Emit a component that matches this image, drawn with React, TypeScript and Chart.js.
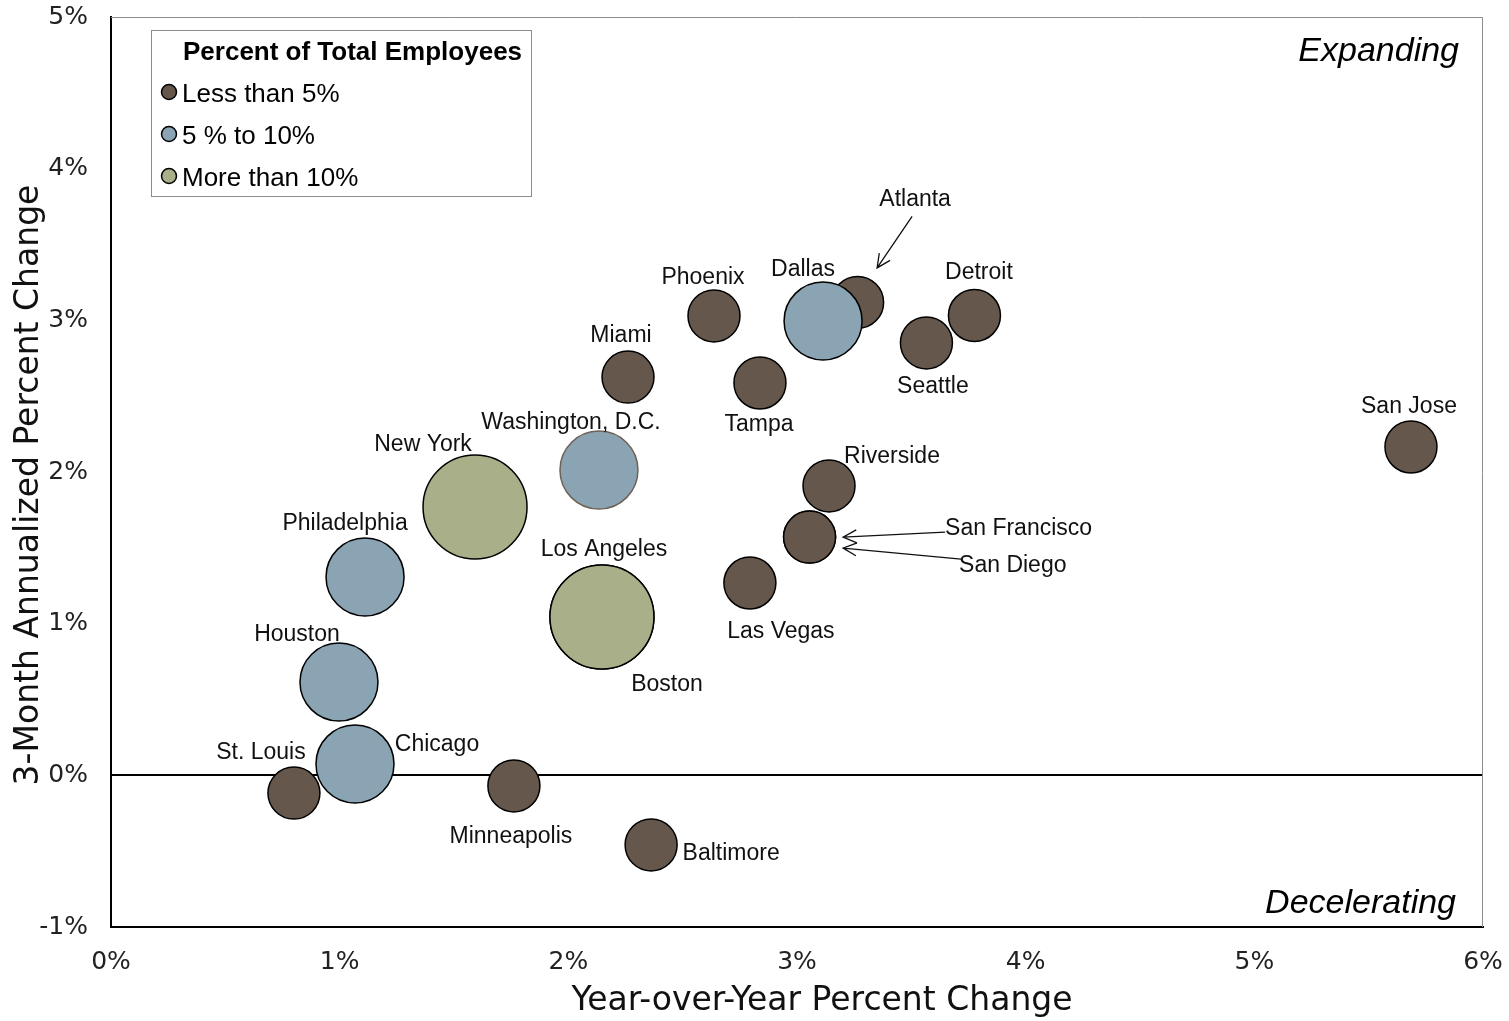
import React, { useEffect, useRef } from "react";
import { Chart, registerables } from "chart.js";
Chart.register(...registerables);

// ---- data ----
const smallCities = ["San Jose", "St. Louis", "Minneapolis", "Baltimore", "Miami", "Phoenix", "Tampa", "Atlanta", "Seattle", "Detroit", "Riverside", "San Francisco", "San Diego", "Las Vegas"];
const smallX = [5.685, 0.8, 1.762, 2.362, 2.261, 2.637, 2.838, 3.265, 3.566, 3.776, 3.14, 3.055, 3.055, 2.794];
const smallY = [2.165, -0.117, -0.07, -0.459, 2.626, 3.029, 2.587, 3.118, 2.851, 3.032, 1.908, 1.571, 1.571, 1.268];

const midCities = ["Chicago", "Houston", "Philadelphia", "Washington, D.C.", "Dallas"];
const midX = [1.067, 0.997, 1.111, 2.134, 3.114];
const midY = [0.075, 0.615, 1.308, 2.013, 2.996];

const largeCities = ["New York", "Los Angeles", "Boston"];
const largeX = [1.592, 2.147, 2.147];
const largeY = [1.769, 1.044, 1.044];

const groupLabels = ["Less than 5%", "5 % to 10%", "More than 10%"];
const legendTitle = "Percent of Total Employees";
const xTitle = "Year-over-Year Percent Change";
const yTitle = "3-Month Annualized Percent Change";
const quadTop = "Expanding";
const quadBottom = "Decelerating";

// ---- styles / annotation placement (pixel offsets from bubble centre) ----
const groupColors = ["#65574B", "#8AA4B4", "#A9AF89"];
const groupRadius = [26, 39, 52];
const labelOffsets: Record<string, [number, number]> = {
  "San Jose": [-2, -42],
  "St. Louis": [-33, -42],
  Chicago: [82, -21],
  Houston: [-42, -49],
  Philadelphia: [-20, -55],
  "New York": [-52, -64],
  "Washington, D.C.": [-28, -49],
  "Los Angeles": [2, -69],
  Boston: [65, 66],
  Minneapolis: [-3, 49],
  Baltimore: [80, 7],
  Miami: [-7, -43],
  Phoenix: [-11, -40],
  Tampa: [-1, 40],
  Dallas: [-20, -53],
  Seattle: [6.5, 42],
  Detroit: [4.5, -44.5],
  Riverside: [63, -31],
  "Las Vegas": [31, 47],
};
const arrowLabels: Record<string, { text: [number, number]; align: CanvasTextAlign; tail: [number, number]; head: [number, number] }> = {
  Atlanta: { text: [57.5, -104.5], align: "center", tail: [54.5, -86], head: [19.5, -34.5] },
  "San Francisco": { text: [135.5, -10], align: "left", tail: [135.5, -5], head: [33.5, 0] },
  "San Diego": { text: [149.5, 27], align: "left", tail: [151.5, 22], head: [33.5, 11] },
};

const LABEL_FONT = '23px "Liberation Sans", Arial, sans-serif';
const TITLE_FONT = '33px "DejaVu Sans", Verdana, sans-serif';
const TEXT_NUDGE = 2;

function drawArrow(ctx: CanvasRenderingContext2D, x1: number, y1: number, x2: number, y2: number) {
  ctx.beginPath();
  ctx.moveTo(x1, y1);
  ctx.lineTo(x2, y2);
  const ang = Math.atan2(y2 - y1, x2 - x1);
  const len = 15;
  const spread = 0.45;
  ctx.moveTo(x2 - len * Math.cos(ang - spread), y2 - len * Math.sin(ang - spread));
  ctx.lineTo(x2, y2);
  ctx.lineTo(x2 - len * Math.cos(ang + spread), y2 - len * Math.sin(ang + spread));
  ctx.stroke();
}

const annotPlugin = {
  id: "annot",
  afterDraw(chart: any) {
    const ctx: CanvasRenderingContext2D = chart.ctx;
    const a = chart.chartArea;
    ctx.save();
    // grey frame top / right
    ctx.strokeStyle = "#8c8c8c";
    ctx.lineWidth = 1;
    ctx.beginPath();
    ctx.moveTo(a.left, a.top + 0.5);
    ctx.lineTo(a.right - 0.5, a.top + 0.5);
    ctx.lineTo(a.right - 0.5, a.bottom);
    ctx.stroke();

    // city labels
    ctx.font = LABEL_FONT;
    ctx.fillStyle = "#111";
    ctx.strokeStyle = "#111";
    ctx.lineWidth = 1.3;
    ctx.textBaseline = "middle";
    chart.data.datasets.forEach((ds: any, di: number) => {
      const meta = chart.getDatasetMeta(di);
      meta.data.forEach((pt: any, i: number) => {
        const name = ds.cities[i];
        const off = labelOffsets[name];
        if (off) {
          ctx.textAlign = "center";
          ctx.fillText(name, pt.x + off[0], pt.y + off[1] + TEXT_NUDGE);
        }
        const arr = arrowLabels[name];
        if (arr) {
          ctx.textAlign = arr.align;
          ctx.fillText(name, pt.x + arr.text[0], pt.y + arr.text[1] + TEXT_NUDGE);
          drawArrow(ctx, pt.x + arr.tail[0], pt.y + arr.tail[1], pt.x + arr.head[0], pt.y + arr.head[1]);
        }
      });
    });

    // quadrant words
    ctx.fillStyle = "#000";
    ctx.textAlign = "right";
    ctx.font = 'italic 34px "Liberation Sans", Arial, sans-serif';
    ctx.fillText(quadTop, a.right - 24, a.top + 35);
    ctx.fillText(quadBottom, a.right - 27, a.bottom - 23);

    // legend
    const lx = a.left + 40, ly = a.top + 13, lw = 380, lh = 166;
    ctx.fillStyle = "#fff";
    ctx.fillRect(lx, ly, lw, lh);
    ctx.strokeStyle = "#8c8c8c";
    ctx.lineWidth = 1;
    ctx.strokeRect(lx + 0.5, ly + 0.5, lw, lh);
    ctx.fillStyle = "#000";
    ctx.textAlign = "left";
    ctx.font = 'bold 26px "Liberation Sans", Arial, sans-serif';
    ctx.fillText(legendTitle, lx + 32, ly + 23);
    ctx.font = '26px "Liberation Sans", Arial, sans-serif';
    groupLabels.forEach((g, i) => {
      const cy = ly + 63 + i * 42;
      ctx.beginPath();
      ctx.arc(lx + 18, cy - 1, 7.5, 0, Math.PI * 2);
      ctx.fillStyle = groupColors[i];
      ctx.fill();
      ctx.strokeStyle = "#000";
      ctx.lineWidth = 1.5;
      ctx.stroke();
      ctx.fillStyle = "#000";
      ctx.fillText(g, lx + 31, cy + 1.5);
    });

    // axis titles
    ctx.font = TITLE_FONT;
    ctx.fillStyle = "#111";
    ctx.textAlign = "center";
    ctx.fillText(xTitle, (a.left + a.right) / 2 + 25, a.bottom + 74);
    ctx.translate(29, (a.top + a.bottom) / 2 + 13);
    ctx.rotate(-Math.PI / 2);
    ctx.fillText(yTitle, 0, 0);
    ctx.restore();
  },
};

export default function App() {
  const ref = useRef<HTMLCanvasElement | null>(null);
  useEffect(() => {
    if (!ref.current) return;
    const mk = (xs: number[], ys: number[]) => xs.map((x, i) => ({ x, y: ys[i] }));
    const chart = new Chart(ref.current, {
      type: "bubble",
      data: {
        datasets: [
          {
            label: groupLabels[0],
            cities: smallCities,
            data: mk(smallX, smallY),
            backgroundColor: groupColors[0],
            borderColor: "#000",
            borderWidth: 1.5,
            radius: groupRadius[0],
            order: 3,
          } as any,
          {
            label: groupLabels[1],
            cities: midCities,
            data: mk(midX, midY),
            backgroundColor: groupColors[1],
            borderColor: (c: any) => (midCities[c.dataIndex] === "Washington, D.C." ? "#6E6256" : "#000"),
            borderWidth: 1.5,
            radius: groupRadius[1],
            order: 2,
          } as any,
          {
            label: groupLabels[2],
            cities: largeCities,
            data: mk(largeX, largeY),
            backgroundColor: groupColors[2],
            borderColor: "#000",
            borderWidth: 1.5,
            radius: groupRadius[2],
            order: 1,
          } as any,
        ],
      },
      options: {
        animation: false,
        responsive: true,
        maintainAspectRatio: false,
        layout: { autoPadding: false, padding: { top: 17, right: 26, left: 0, bottom: 0 } },
        plugins: { legend: { display: false }, tooltip: { enabled: false }, title: { display: false } },
        scales: {
          x: {
            type: "linear",
            min: 0,
            max: 6,
            afterFit: (s: any) => {
              s.height = 94;
            },
            ticks: {
              stepSize: 1,
              padding: 0,
              color: "#222",
              font: { family: "DejaVu Sans", size: 25 },
              callback: (v: any) => `${v}%`,
            },
            grid: { display: false, drawTicks: true, tickLength: 20, tickColor: "rgba(0,0,0,0)" },
            border: { display: true, color: "#000", width: 2 },
          },
          y: {
            type: "linear",
            min: -1,
            max: 5,
            afterFit: (s: any) => {
              s.width = 111;
            },
            ticks: {
              stepSize: 1,
              padding: 0,
              color: "#222",
              font: { family: "DejaVu Sans", size: 25 },
              callback: (v: any) => `${v}%`,
            },
            grid: {
              drawTicks: true,
              tickLength: 23,
              tickColor: "rgba(0,0,0,0)",
              color: (c: any) => (c.tick && c.tick.value === 0 ? "#000" : "rgba(0,0,0,0)"),
              lineWidth: 2,
            },
            border: { display: true, color: "#000", width: 2 },
          },
        },
      },
      plugins: [annotPlugin],
    });
    return () => chart.destroy();
  }, []);
  return (
    <div style={{ position: "absolute", left: 0, top: 0, width: 1509, height: 1021, background: "#fff" }}>
      <canvas ref={ref} />
    </div>
  );
}
